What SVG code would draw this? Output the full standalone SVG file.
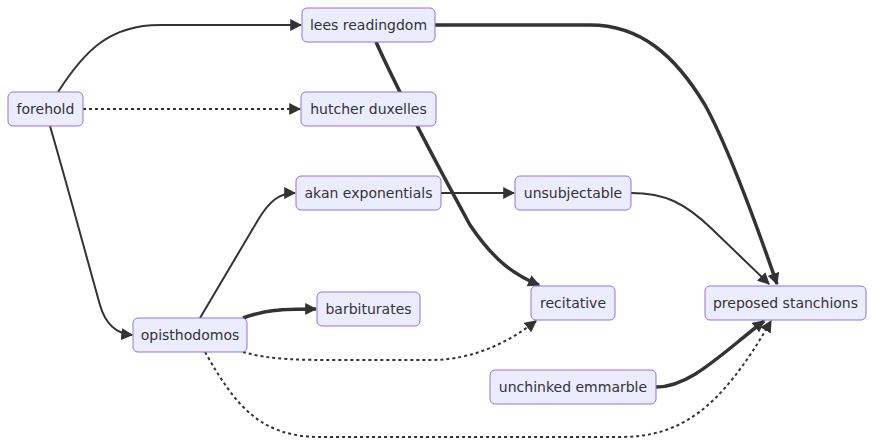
<svg xmlns="http://www.w3.org/2000/svg" width="874" height="447" viewBox="0 0 874 447">
<style>
.node rect{fill:#ECECFF;stroke:#9370DB;stroke-width:1}
.node text{font-family:"DejaVu Sans",Verdana,sans-serif;font-size:14px;fill:#333;text-anchor:middle;dominant-baseline:central}
.e{fill:none;stroke:#333;stroke-width:2}
.thick{stroke-width:3.5}
.dot{stroke-dasharray:3 3}
</style>
<defs>
<marker id="arr" viewBox="0 0 10 10" refX="9" refY="5" markerUnits="userSpaceOnUse" markerWidth="12" markerHeight="12" orient="auto">
<path d="M0,0 L10,5 L0,10 z" fill="#333"/>
</marker>
</defs>
<rect width="874" height="447" fill="#fff"/>
<g id="edges">
<path class="e" d="M58,92 C85,50 110,25 160,25 L301,25" marker-end="url(#arr)"/>
<path class="e dot" d="M83,109 L300,109" marker-end="url(#arr)"/>
<path class="e" d="M50,126 C70,195 90,270 100,305 Q108,333 132,335" marker-end="url(#arr)"/>
<path class="e thick" d="M435,25 L590,25 C640,25 675,55 705,105 C730,150 760,235 777,284" marker-end="url(#arr)"/>
<path class="e thick" d="M376,42 C400,95 440,170 470,225 C495,262 515,275 539,285" marker-end="url(#arr)"/>
<path class="e" d="M441,193 L514,193" marker-end="url(#arr)"/>
<path class="e" d="M631,193 C665,193 685,203 712,229 L769,284" marker-end="url(#arr)"/>
<path class="e" d="M200,318 L258,220 C270,200 280,193 295,193" marker-end="url(#arr)"/>
<path class="e thick" d="M243,318 C265,310 280,309 316,309" marker-end="url(#arr)"/>
<path class="e dot" d="M243,352 C270,360 300,360 340,360 L430,360 C470,360 505,345 536,321" marker-end="url(#arr)"/>
<path class="e dot" d="M205,352 C235,405 260,437 320,437 L620,437 C680,437 720,410 771,321" marker-end="url(#arr)"/>
<path class="e thick" d="M656,387 C690,387 720,355 764,321" marker-end="url(#arr)"/>
</g>
<g id="forehold" class="node"><rect x="8" y="92" width="75" height="34" rx="5"/><text x="45.5" y="109">forehold</text></g>
<g id="lees-readingdom" class="node"><rect x="302" y="8" width="133" height="34" rx="5"/><text x="368.5" y="25">lees readingdom</text></g>
<g id="hutcher-duxelles" class="node"><rect x="301" y="92" width="135" height="34" rx="5"/><text x="368.5" y="109">hutcher duxelles</text></g>
<g id="akan-exponentials" class="node"><rect x="296" y="176" width="145" height="34" rx="5"/><text x="368.5" y="193">akan exponentials</text></g>
<g id="unsubjectable" class="node"><rect x="515" y="176" width="116" height="34" rx="5"/><text x="573" y="193">unsubjectable</text></g>
<g id="opisthodomos" class="node"><rect x="133" y="318" width="114" height="34" rx="5"/><text x="190" y="335">opisthodomos</text></g>
<g id="barbiturates" class="node"><rect x="317" y="292" width="103" height="34" rx="5"/><text x="368.5" y="309">barbiturates</text></g>
<g id="recitative" class="node"><rect x="531" y="286" width="84" height="34" rx="5"/><text x="573" y="303">recitative</text></g>
<g id="preposed-stanchions" class="node"><rect x="705" y="286" width="161" height="34" rx="5"/><text x="785.5" y="303">preposed stanchions</text></g>
<g id="unchinked-emmarble" class="node"><rect x="490" y="370" width="166" height="34" rx="5"/><text x="573" y="387">unchinked emmarble</text></g>
</svg>
